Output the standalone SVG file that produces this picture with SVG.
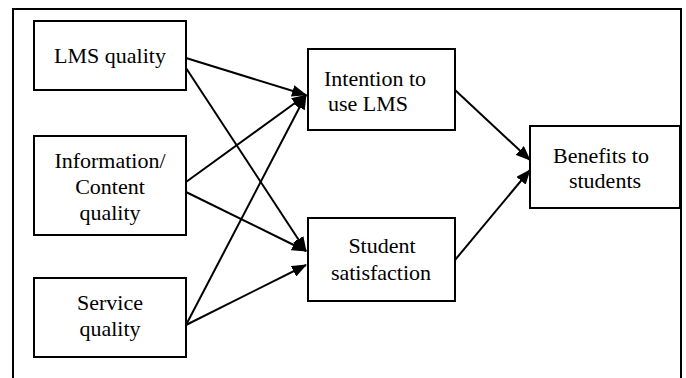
<svg xmlns="http://www.w3.org/2000/svg" width="686" height="378" viewBox="0 0 686 378">
<style>
.box{fill:#fff;stroke:#000;stroke-width:2}
.t{font-family:'Liberation Serif','Times New Roman',serif;font-size:22px;fill:#000;text-anchor:middle}
.c{fill:none;stroke:#000;stroke-width:2;marker-end:url(#ah)}
</style>
<defs>
<marker id="ah" markerUnits="userSpaceOnUse" markerWidth="15" markerHeight="12" viewBox="0 0 15 12" refX="14" refY="6" orient="auto">
<path d="M0,0 L15,6 L0,12 Z" fill="#000"/>
</marker>
</defs>
<rect width="686" height="378" fill="#fff"/>
<path d="M13,378 V9 H681 V378" fill="none" stroke="#000" stroke-width="2"/>
<g id="connectors">
<line class="c" x1="186" y1="58" x2="306" y2="95"/>
<line class="c" x1="186" y1="68" x2="306" y2="251"/>
<line class="c" x1="186" y1="182" x2="306" y2="95"/>
<line class="c" x1="186" y1="192" x2="306" y2="251"/>
<line class="c" x1="186" y1="325" x2="306" y2="95"/>
<line class="c" x1="186" y1="325" x2="306" y2="265"/>
<line class="c" x1="455" y1="90" x2="530" y2="160"/>
<line class="c" x1="455" y1="260" x2="530" y2="170"/>
</g>
<g id="lms">
<rect class="box" x="34" y="21" width="152" height="69"/>
<text class="t" x="110" y="63">LMS quality</text>
</g>
<g id="info">
<rect class="box" x="34" y="136" width="152" height="99"/>
<text class="t" x="110" y="168">Information/</text>
<text class="t" x="110" y="194">Content</text>
<text class="t" x="110" y="220">quality</text>
</g>
<g id="service">
<rect class="box" x="34" y="278" width="152" height="79"/>
<text class="t" x="110" y="310">Service</text>
<text class="t" x="110" y="336">quality</text>
</g>
<g id="intention">
<rect class="box" x="308" y="49" width="147" height="81"/>
<text class="t" x="375" y="86">Intention to</text>
<text class="t" x="368" y="111">use LMS</text>
</g>
<g id="satisfaction">
<rect class="box" x="308" y="218" width="147" height="83"/>
<text class="t" x="382" y="253">Student</text>
<text class="t" x="381" y="280">satisfaction</text>
</g>
<g id="benefits">
<rect class="box" x="530" y="126" width="150" height="82"/>
<text class="t" x="601" y="163">Benefits to</text>
<text class="t" x="605" y="188">students</text>
</g>
</svg>
